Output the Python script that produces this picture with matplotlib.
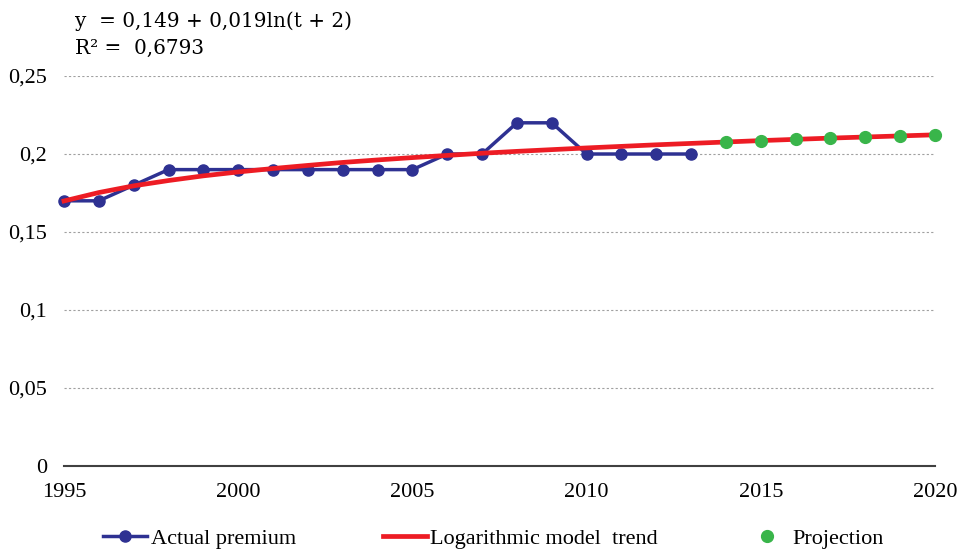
import matplotlib
from matplotlib import pyplot as plt

matplotlib.rcParams['font.family'] = ['Liberation Serif', 'DejaVu Serif']
matplotlib.rcParams['font.size'] = 16

# data
years = list(range(1995, 2014))
premium = [0.17, 0.17, 0.18, 0.19, 0.19, 0.19, 0.19, 0.19, 0.19, 0.19,
           0.19, 0.20, 0.20, 0.22, 0.22, 0.20, 0.20, 0.20, 0.20]

trend_years = list(range(1995, 2021))
trend = [0.1699, 0.1753, 0.1796, 0.1830, 0.1860, 0.1885, 0.1907, 0.1927,
         0.1946, 0.1962, 0.1977, 0.1991, 0.2005, 0.2017, 0.2028, 0.2039,
         0.2049, 0.2059, 0.2068, 0.2077, 0.2086, 0.2094, 0.2102, 0.2109,
         0.2116, 0.2123]

proj_years = list(range(2014, 2021))
projection = [0.2077, 0.2086, 0.2094, 0.2102, 0.2109, 0.2116, 0.2123]

yticks = [0, 0.05, 0.1, 0.15, 0.2, 0.25]
ytick_labels = ['0', '0,05', '0,1', '0,15', '0,2', '0,25']
xticks = [1995, 2000, 2005, 2010, 2015, 2020]

fig = plt.figure(figsize=(9.58, 5.5), dpi=100)
ax = fig.add_axes([0.0668, 0.1527, 0.9092, 0.7091])

ax.plot(years, premium, '-o', color='#2e3192', lw=2.5, ms=8,
        label='Actual premium', zorder=3, clip_on=False)
ax.plot(trend_years, trend, '-', color='#ed1c24', lw=3.4,
        label='Logarithmic model  trend', zorder=4, clip_on=False)
ax.plot(proj_years, projection, 'o', color='#39b54a', ms=8.5,
        label='Projection', zorder=5, clip_on=False)

ax.set_xlim(1995, 2020)
ax.set_ylim(0, 0.25)
ax.set_xticks(xticks)
ax.set_yticks(yticks, ytick_labels)
ax.grid(axis='y', color='#a0a0a0', ls=(0, (2, 2)), lw=0.8)
ax.set_axisbelow(True)
for s in ['left', 'right', 'top']:
    ax.spines[s].set_visible(False)
ax.spines['bottom'].set_color('#404040')
ax.spines['bottom'].set_linewidth(1.5)
ax.tick_params(length=0, labelsize=16, colors='black')
ax.tick_params(axis='x', pad=12)
ax.tick_params(axis='y', pad=12)

fig.text(0.078, 0.962, 'y  = 0,149 + 0,019ln(t + 2)', fontsize=14.4,
         family=['DejaVu Serif'], va='center', ha='left')
fig.text(0.078, 0.912, 'R\u00b2 =  0,6793', fontsize=14.4,
         family=['DejaVu Serif'], va='center', ha='left')

fig.legend(loc='lower center', bbox_to_anchor=(0.515, -0.034), ncol=3,
           frameon=False, fontsize=16, columnspacing=3.9, handlelength=2.0,
           handletextpad=0.15)

fig.savefig('out.png', dpi=100)
